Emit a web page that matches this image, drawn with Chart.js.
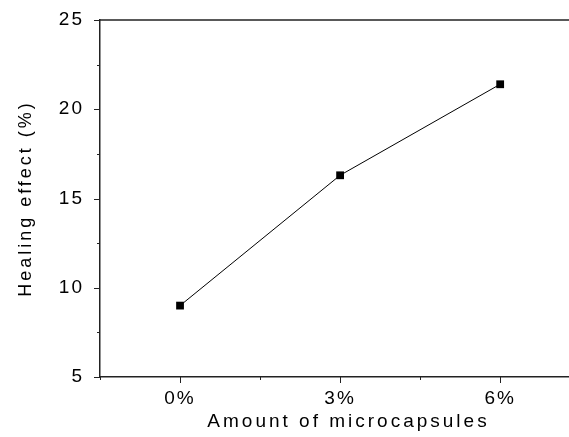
<!DOCTYPE html>
<html>
<head>
<meta charset="utf-8">
<script src="https://cdn.jsdelivr.net/npm/chart.js@4.4.0/dist/chart.umd.min.js"></script>
<style>
    html, body { margin: 0; padding: 0; background: #fff; }
    canvas { display: block; }
</style>
</head>
<body>
<canvas id="GraficoHealing" width="569" height="437"></canvas>
<script>
// data
var categorias = ['0%', '3%', '6%'];
var efeito = [9.0, 16.3, 21.4];
var yTicks = [5, 10, 15, 20, 25];
var yMinor = [7.5, 12.5, 17.5, 22.5];
var xMinor = [-0.5, 0.5, 1.5];
var tituloX = 'Amount of microcapsules';

var fonte = "'Liberation Sans', Arial, sans-serif";

// tick marks (major + minor), the top frame line and the x title
var marcas = {
    id: 'marcas',
    beforeDraw: function (chart) {
        chart.ctx.letterSpacing = '3px'; // y axis title
    },
    afterDatasetsDraw: function (chart) {
        var ctx = chart.ctx;
        var area = chart.chartArea;
        var sx = chart.scales.x;
        var sy = chart.scales.y;
        ctx.save();
        ctx.strokeStyle = '#222';
        ctx.lineWidth = 1.5;
        ctx.beginPath();
        ctx.moveTo(area.left, area.top);
        ctx.lineTo(area.right, area.top);
        ctx.stroke();

        ctx.lineWidth = 1;
        ctx.beginPath();
        yTicks.forEach(function (v) {
            var py = Math.round(sy.getPixelForValue(v)) + 0.5;
            ctx.moveTo(area.left - 6, py);
            ctx.lineTo(area.left, py);
        });
        yMinor.forEach(function (v) {
            var py = Math.round(sy.getPixelForValue(v)) + 0.5;
            ctx.moveTo(area.left - 3, py);
            ctx.lineTo(area.left, py);
        });
        categorias.forEach(function (c, i) {
            var px = Math.round(sx.getPixelForValue(i)) + 0.5;
            ctx.moveTo(px, area.bottom);
            ctx.lineTo(px, area.bottom + 6);
        });
        xMinor.forEach(function (v) {
            var px = Math.round(sx.getPixelForValue(v)) + 0.5;
            ctx.moveTo(px, area.bottom);
            ctx.lineTo(px, area.bottom + 3);
        });
        ctx.stroke();

        // x axis title, a bit right of the plot centre like the original
        ctx.letterSpacing = '3px';
        ctx.fillStyle = '#000';
        ctx.font = '19px ' + fonte;
        ctx.textAlign = 'center';
        ctx.textBaseline = 'middle';
        ctx.fillText(tituloX, (area.left + area.right) / 2 + 14, chart.height - 15);
        ctx.restore();

        ctx.letterSpacing = '2px'; // tick labels (drawn after datasets, z: 1)
    },
    afterDraw: function (chart) {
        chart.ctx.letterSpacing = '0px';
    }
};

function semPadding(scale) {
    scale.paddingLeft = 0;
    scale.paddingRight = 0;
    scale.paddingTop = 0;
    scale.paddingBottom = 0;
}

var ctx = document.getElementById('GraficoHealing').getContext('2d');

var grafico = new Chart(ctx, {
    type: 'line',
    data: {
        datasets: [
            {
                label: 'Healing effect',
                data: efeito.map(function (v, i) { return { x: i, y: v }; }),
                borderColor: '#000',
                borderWidth: 1,
                backgroundColor: '#000',
                pointStyle: 'rect',
                pointRadius: 5.5,
                pointBorderWidth: 0,
                pointBackgroundColor: '#000',
                tension: 0,
                clip: false
            }
        ]
    },
    options: {
        responsive: false,
        animation: false,
        events: [],
        layout: {
            autoPadding: false,
            padding: { top: 20, right: 0, left: 0, bottom: 0 }
        },
        plugins: {
            legend: { display: false },
            tooltip: { enabled: false }
        },
        scales: {
            x: {
                type: 'linear',
                min: -0.5,
                max: 2.43,
                afterBuildTicks: function (scale) {
                    scale.ticks = categorias.map(function (c, i) { return { value: i }; });
                },
                afterFit: function (scale) {
                    scale.height = 60;
                    semPadding(scale);
                },
                grid: { display: false, drawTicks: false },
                border: { display: true, color: '#222', width: 1.5 },
                ticks: {
                    z: 1,
                    autoSkip: false,
                    maxRotation: 0,
                    padding: 10,
                    color: '#000',
                    font: { family: fonte, size: 19 },
                    callback: function (v) { return categorias[v]; }
                },
                title: { display: false }
            },
            y: {
                min: 5,
                max: 25,
                afterFit: function (scale) {
                    scale.width = 100;
                    semPadding(scale);
                },
                grid: { display: false, drawTicks: false },
                border: { display: true, color: '#222', width: 1.5 },
                ticks: {
                    z: 1,
                    stepSize: 5,
                    padding: 16,
                    color: '#000',
                    font: { family: fonte, size: 19 }
                },
                title: {
                    display: true,
                    text: 'Healing effect (%)',
                    color: '#000',
                    font: { family: fonte, size: 18 },
                    padding: { top: 15, bottom: 0 }
                }
            }
        }
    },
    plugins: [marcas]
});
</script>
</body>
</html>
